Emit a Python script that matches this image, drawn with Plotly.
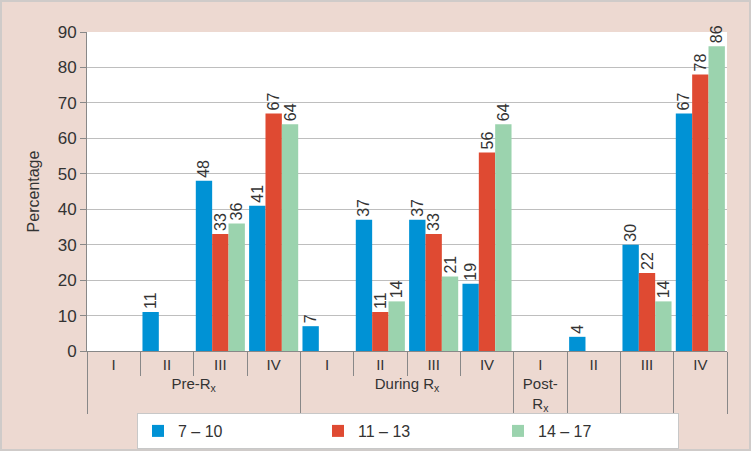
import plotly.graph_objects as go

phases = ["Pre-R<sub>x</sub>"] * 4 + ["During R<sub>x</sub>"] * 4 + ["Post-<br>R<sub>x</sub>", " ", "  ", "   "]
stages = ["I", "II", "III", "IV"] * 3

series_names = ["7 – 10", "11 – 13", "14 – 17"]
age_7_10 = [0, 11, 48, 41, 7, 37, 37, 19, 0, 4, 30, 67]
age_11_13 = [0, 0, 33, 67, 0, 11, 33, 56, 0, 0, 22, 78]
age_14_17 = [0, 0, 36, 64, 0, 14, 21, 64, 0, 0, 14, 86]
colors = ["#0092D5", "#DF4A32", "#9BD3AE"]

W, H = 751, 451
ML, MR, MT, MB = 87, 24, 32, 100
PW, PH = W - ML - MR, H - MT - MB

fig = go.Figure()
for name, vals, col in zip(series_names, [age_7_10, age_11_13, age_14_17], colors):
    fig.add_trace(go.Bar(
        x=[phases, stages], y=vals, name=name,
        marker=dict(color=col, line=dict(width=0)),
        text=[str(v) if v else "" for v in vals],
        textposition="outside", textangle=-90, constraintext="none",
        textfont=dict(size=16, color="#333333"),
        cliponaxis=False,
    ))

# thin grey frame around the whole picture
fig.add_shape(type="rect", xref="paper", yref="paper",
              x0=-(ML - 1) / PW, x1=1 + (MR - 1) / PW,
              y0=-(MB - 1) / PH, y1=1 + (MT - 1) / PH,
              line=dict(color="#CFCBC9", width=2), fillcolor="rgba(0,0,0,0)", layer="below")

fig.update_layout(
    width=W, height=H,
    paper_bgcolor="#EDD9D1", plot_bgcolor="#FFFFFF",
    margin=dict(l=ML, r=MR, t=MT, b=MB, autoexpand=False),
    barmode="group", bargap=0.08, bargroupgap=0,
    font=dict(family="Liberation Sans, Arial, sans-serif", size=16, color="#333333"),
    showlegend=True,
    legend=dict(orientation="h", x=137 / W, xanchor="left", xref="container",
                y=1 - 413 / H, yanchor="top", yref="container",
                bgcolor="#FFFFFF", bordercolor="#C8C8C8", borderwidth=1,
                entrywidth=135, entrywidthmode="pixels",
                font=dict(size=16, color="#333333")),
    xaxis=dict(type="multicategory", automargin=False, showline=True, linecolor="#888888", linewidth=1,
               ticks="outside", tickson="boundaries", ticklen=24, tickcolor="#888888",
               showdividers=True, dividercolor="#888888", dividerwidth=1,
               tickfont=dict(size=15, color="#333333")),
    yaxis=dict(range=[0, 90], dtick=10, automargin=False, showgrid=True, gridcolor="#BEBEBE", gridwidth=1,
               showline=True, linecolor="#888888", ticks="outside", ticklen=6,
               tickcolor="#888888", zeroline=False,
               title=dict(text="Percentage", font=dict(size=16, color="#333333"), standoff=14),
               tickfont=dict(size=17, color="#333333")),
)

fig.write_html("out.html", config={"displayModeBar": False},
               post_script="document.body.style.margin='0';document.body.style.padding='0';")
